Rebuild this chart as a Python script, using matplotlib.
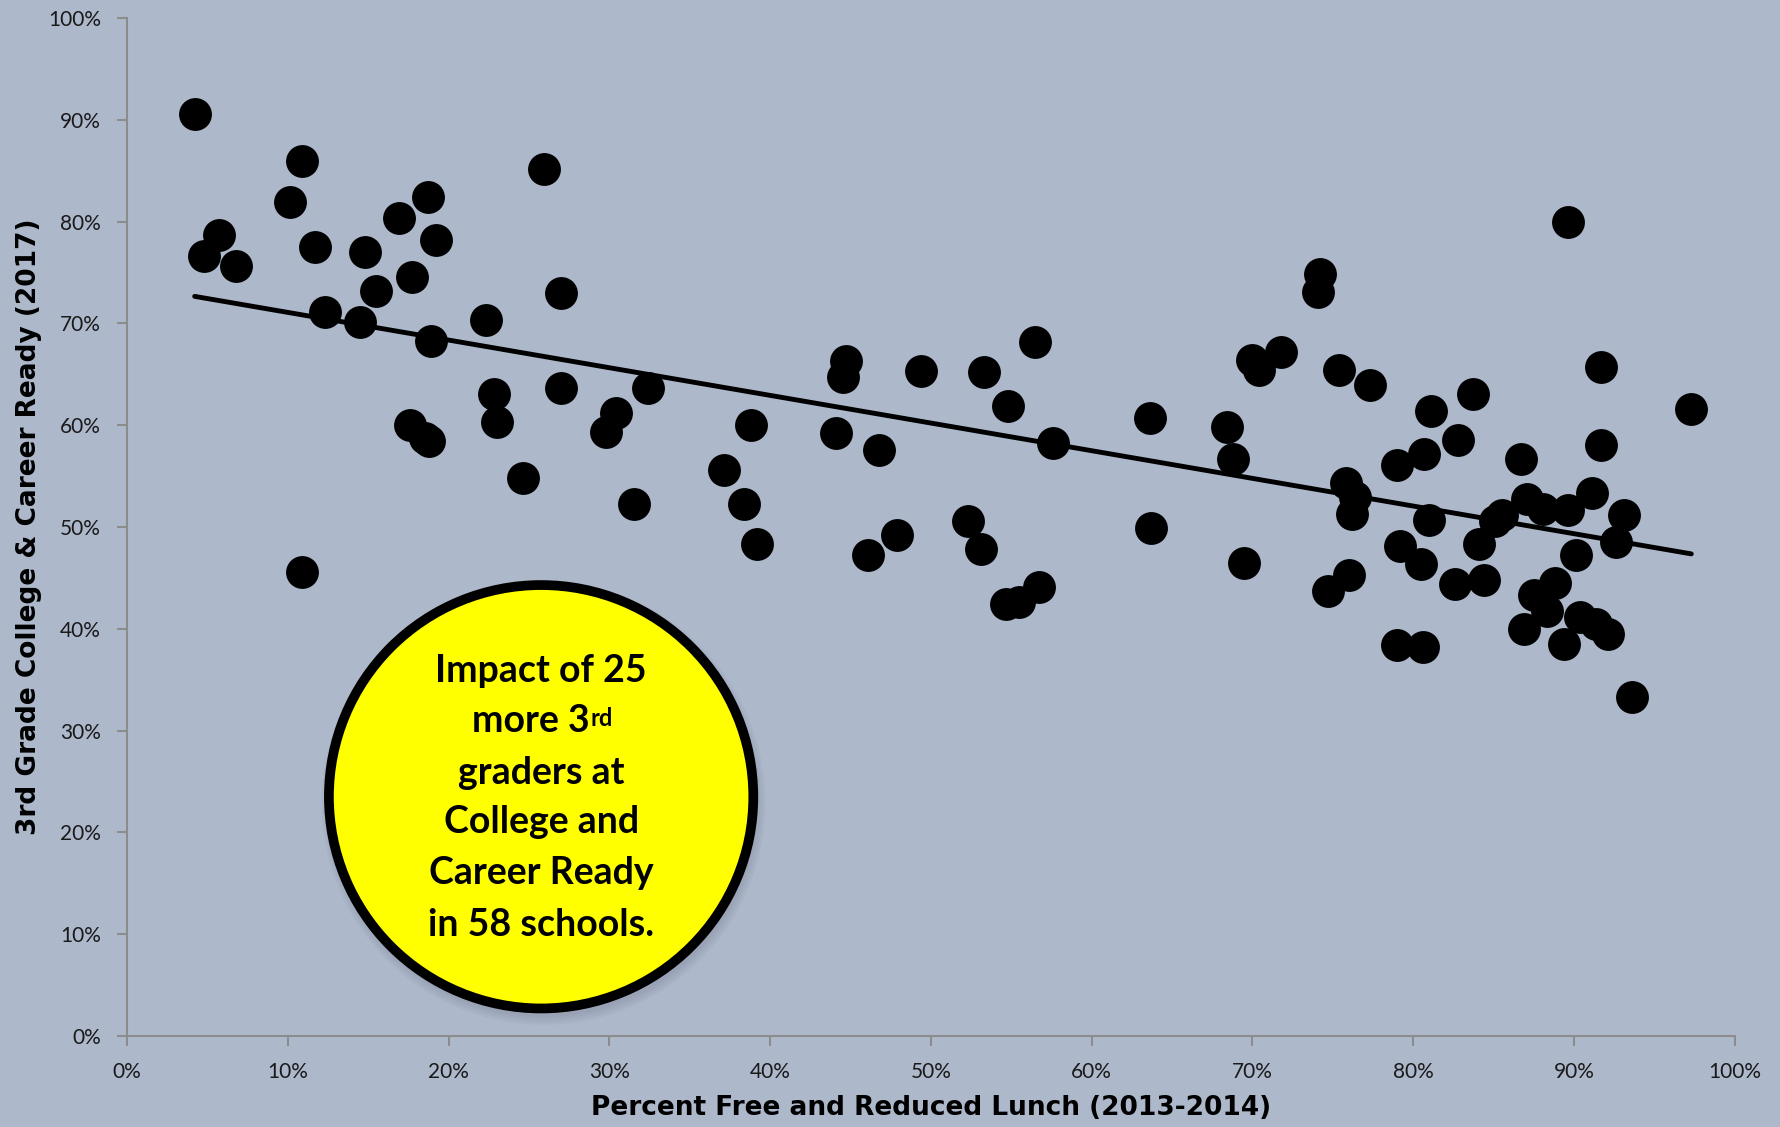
import numpy as np
import matplotlib
matplotlib.use("Agg")
import matplotlib.pyplot as plt
from matplotlib.patches import Ellipse
from matplotlib.ticker import PercentFormatter

# percent free/reduced lunch (2013-2014) and 3rd grade CCR (2017), in %
lunch = [4.2, 4.8, 5.7, 6.8, 10.1, 10.9, 10.9, 11.7, 12.3, 14.5,
         14.8, 15.5, 16.9, 17.7, 17.6, 18.5, 18.8, 18.7, 19.2, 18.9,
         22.3, 22.8, 23.0, 24.6, 25.9, 27.0, 27.0, 29.8, 30.4, 31.5,
         32.4, 37.1, 38.4, 38.8, 39.2, 44.1, 44.5, 44.7, 46.8, 46.1,
         47.9, 49.4, 52.3, 53.3, 53.1, 54.8, 54.7, 55.5, 56.7, 56.5,
         57.6, 63.6, 63.7, 68.4, 68.8, 69.5, 70.0, 70.4, 71.8, 74.2,
         74.1, 74.7, 75.4, 75.8, 76.4, 76.2, 76.0, 77.3, 79.0, 79.2,
         79.0, 80.6, 80.5, 80.7, 81.1, 81.0, 82.6, 82.8, 83.7, 84.1,
         84.4, 85.1, 85.5, 86.7, 87.1, 86.9, 87.5, 88.1, 88.3, 88.8,
         89.6, 89.6, 89.4, 90.1, 90.4, 91.4, 91.1, 91.7, 91.7, 92.1,
         92.6, 93.1, 93.6, 97.3]
ccr = [90.6, 76.6, 78.7, 75.6, 81.9, 86.0, 45.6, 77.5, 71.1, 70.1,
       77.0, 73.2, 80.4, 74.6, 60.0, 58.7, 58.5, 82.4, 78.2, 68.3,
       70.3, 63.1, 60.3, 54.8, 85.2, 73.0, 63.7, 59.3, 61.2, 52.3,
       63.7, 55.6, 52.3, 60.0, 48.3, 59.2, 64.7, 66.3, 57.6, 47.3,
       49.2, 65.3, 50.6, 65.2, 47.8, 61.9, 42.4, 42.6, 44.1, 68.2,
       58.3, 60.7, 49.9, 59.8, 56.7, 46.5, 66.4, 65.4, 67.2, 74.9,
       73.1, 43.7, 65.4, 54.3, 53.0, 51.3, 45.3, 64.0, 56.1, 48.1,
       38.4, 38.2, 46.4, 57.2, 61.4, 50.7, 44.4, 58.6, 63.1, 48.3,
       44.8, 50.6, 51.2, 56.7, 52.8, 40.0, 43.3, 51.8, 41.8, 44.5,
       51.7, 80.0, 38.5, 47.3, 41.2, 40.5, 53.3, 58.1, 65.7, 39.5,
       48.5, 51.2, 33.3, 61.6]

callout_lines = ["Impact of 25", "more 3", "graders at", "College and",
                 "Career Ready", "in 58 schools."]

BG = "#adb8cb"
AXIS_GREY = "#8c8c8c"

fig = plt.figure(figsize=(17.81, 11.27), dpi=100, facecolor=BG)
ax = fig.add_axes([0.0714, 0.0808, 0.9026, 0.9031])
ax.set_facecolor(BG)

ax.scatter(lunch, ccr, s=560, color="black", zorder=3, linewidths=0)

# linear trend line
m, b = np.polyfit(lunch, ccr, 1)
xs = np.array([min(lunch), max(lunch)])
ax.plot(xs, m * xs + b, color="black", lw=3.5, zorder=4, solid_capstyle="round")

ax.set_xlim(0, 100)
ax.set_ylim(0, 100)
ax.set_xticks(np.arange(0, 101, 10))
ax.set_yticks(np.arange(0, 101, 10))
ax.xaxis.set_major_formatter(PercentFormatter(decimals=0))
ax.yaxis.set_major_formatter(PercentFormatter(decimals=0))
for s in ["top", "right"]:
    ax.spines[s].set_visible(False)
for s in ["left", "bottom"]:
    ax.spines[s].set_color(AXIS_GREY)
    ax.spines[s].set_linewidth(1.5)
ax.tick_params(colors=AXIS_GREY, length=7, width=1.5, labelcolor="#1a1a1a",
               labelsize=15)
ax.tick_params(axis="y", pad=12)
ax.tick_params(axis="x", pad=12)
for lab in ax.get_xticklabels() + ax.get_yticklabels():
    lab.set_family("Lato")

ax.set_xlabel("Percent Free and Reduced Lunch (2013-2014)", fontsize=19,
              fontweight="bold", family="DejaVu Sans", labelpad=9)
ax.set_ylabel("3rd Grade College & Career Ready (2017)", fontsize=19,
              fontweight="bold", family="DejaVu Sans")
ax.yaxis.set_label_coords(-0.053, 0.5)

# yellow callout circle with a soft shadow
cx, cy = 25.75, 23.5
rx, ry = 13.2, 20.8
for i in range(4):
    ax.add_patch(Ellipse((cx + 0.15, cy - 0.6), 2 * rx + 0.3 * (4 - i),
                         2 * ry + 0.5 * (4 - i), color="#5a6270", alpha=0.06,
                         lw=0, zorder=5))
ax.add_patch(Ellipse((cx, cy), 2 * rx, 2 * ry, facecolor="#ffff00",
                     edgecolor="black", lw=7, zorder=6))

line_y = [35.9, 30.9, 25.8, 21.0, 16.0, 10.9]
for i, (txt, yy) in enumerate(zip(callout_lines, line_y)):
    xx = cx - 0.65 if i == 1 else cx
    t = ax.text(xx, yy, txt, ha="center", va="center", fontsize=27,
                fontweight="bold", family="Lato", zorder=7)
    if i == 1:
        ax.annotate("rd", xy=(1, 1), xycoords=t, xytext=(1, -2),
                    textcoords="offset points", ha="left", va="top",
                    fontsize=17, fontweight="bold", family="Lato", zorder=7)

fig.savefig("out.png", dpi=100, facecolor=BG)
